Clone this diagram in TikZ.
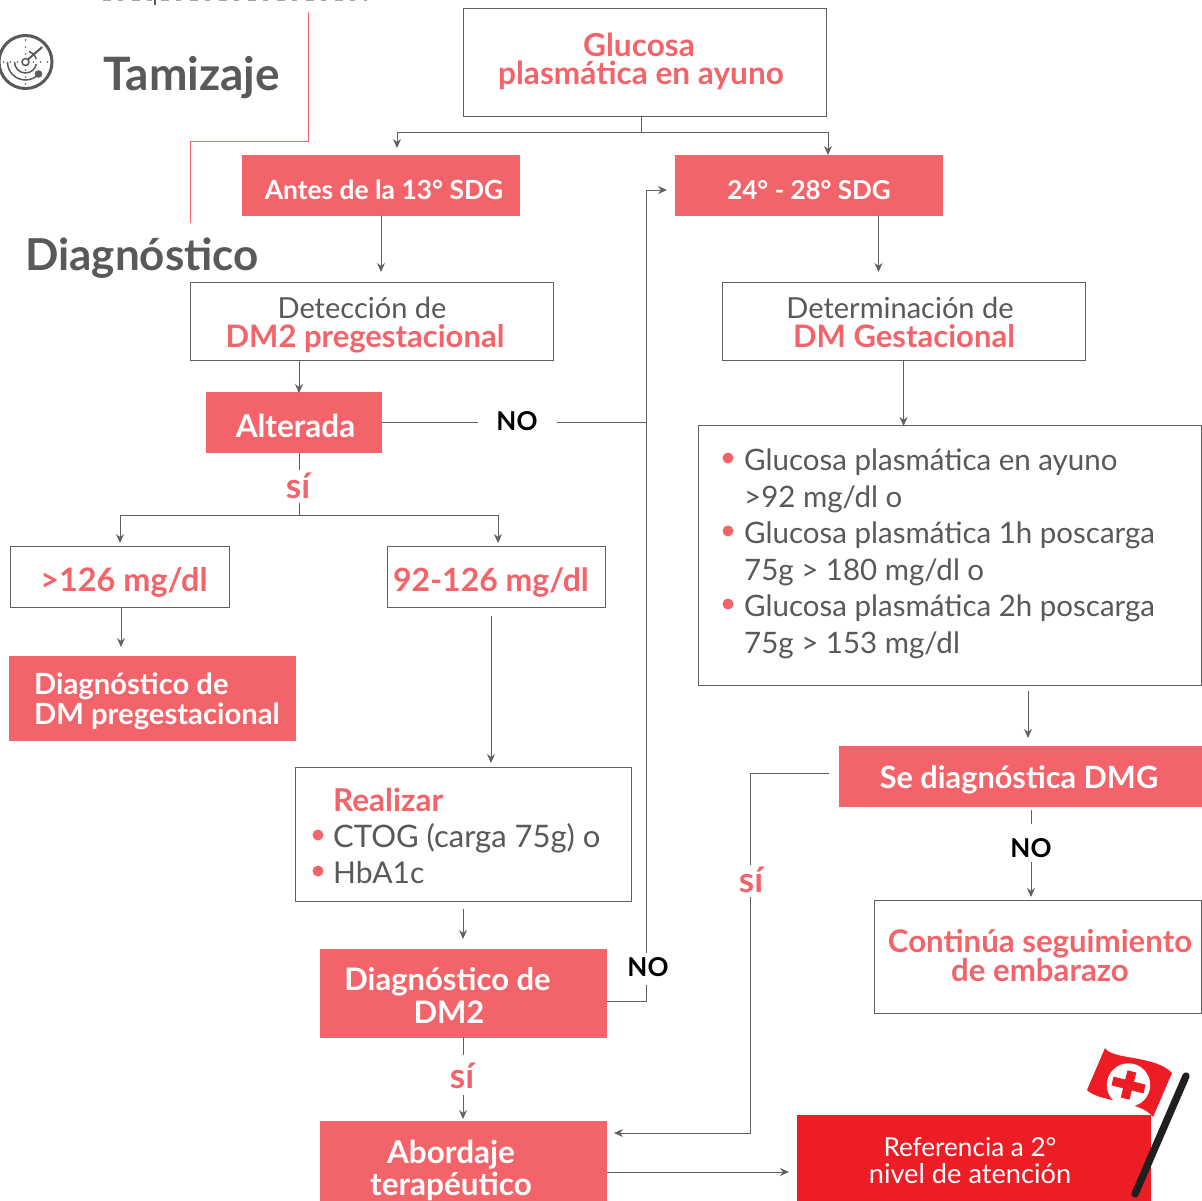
\documentclass[tikz,border=0pt]{standalone}
\usepackage{fontspec}
\setmainfont{Lato}
\usetikzlibrary{arrows.meta,calc}
\definecolor{coral}{HTML}{F3646A}
\definecolor{redd}{HTML}{EE1C25}
\definecolor{gris}{HTML}{58595B}
\definecolor{linea}{HTML}{5F6062}
\newcommand{\fs}[2]{\fontsize{#1}{#2}\selectfont}
\tikzset{
 x=1pt,y=-1pt,
 pbox/.style={draw=linea,line width=0.9pt,fill=white},
 fbox/.style={fill=coral},
 conn/.style={draw=linea,line width=0.9pt},
 arr/.style={conn,-{Stealth[length=9pt,width=8pt]}},
 tw/.style={text=white,align=center,inner sep=0pt},
 tc/.style={text=coral,align=center,inner sep=0pt},
 tg/.style={text=gris,align=left,inner sep=0pt},
 lab/.style={inner sep=0pt,text=black,font=\bfseries\fs{26}{26}},
 silab/.style={inner sep=0pt,text=coral,font=\bfseries\fs{35}{35}},
 dot/.style={circle,fill=coral,inner sep=0pt,minimum size=11pt},
}
\newcommand{\boxn}[6]{\path[#2] (#3,#4) rectangle (#5,#6); \coordinate (#1) at ({(#3+#5)/2},{(#4+#6)/2});
 \coordinate (#1-n) at ({(#3+#5)/2},#4); \coordinate (#1-s) at ({(#3+#5)/2},#6);
 \coordinate (#1-w) at (#3,{(#4+#6)/2}); \coordinate (#1-e) at (#5,{(#4+#6)/2});}
\begin{document}
\begin{tikzpicture}
\useasboundingbox (0,0) rectangle (1202,1201);
\begin{scope}
\clip (0,0) rectangle (1202,1201);
% boxes
\boxn{gluc}{pbox}{463.5}{8.5}{826}{116}
\boxn{antes}{fbox}{242}{155}{520}{216}
\boxn{sdg}{fbox}{675}{155}{943}{216}
\boxn{det}{pbox}{190.5}{282.5}{553}{360.5}
\boxn{dmg}{pbox}{722.5}{282.5}{1085}{360.5}
\boxn{alt}{fbox}{206}{392}{382}{453}
\boxn{mayor}{pbox}{10.5}{546}{229.5}{607}
\boxn{rango}{pbox}{387}{546}{605.5}{607}
\boxn{dxp}{fbox}{9}{656}{296}{741}
\boxn{real}{pbox}{295.5}{767.5}{631}{901.5}
\boxn{dx}{fbox}{320}{949}{607}{1037.5}
\boxn{abor}{fbox}{320}{1121}{607}{1201}
\boxn{lista}{pbox}{698.5}{425.5}{1201.5}{685}
\boxn{sedx}{fbox}{839}{746}{1202}{807}
\boxn{cont}{pbox}{874.5}{900.5}{1201.5}{1013.5}
\boxn{refe}{fill=redd}{797}{1115}{1151}{1201}
% guide lines
\draw[coral,line width=1pt] (308,12) -- (308,142) -- (190,142) -- (190,223);
% remnants of the line of text cut off by the top edge
\draw[gris!55,line width=1.6pt,dash pattern=on 8pt off 7pt on 5pt off 9pt] (103,0.6) -- (367,0.6);
\draw[gris,line width=1.3pt] (155,0) -- (155,5);
% connectors
\draw[conn] (641,116) -- (641,132);
\draw[arr] (641,132) -- (397,132) -- (397,148);
\draw[arr] (641,132) -- (828,132) -- (828,155);
\draw[arr] (antes-s) -- (antes-s |- 0,272);
\draw[arr] (878.5,216) -- (878.5,272);
\draw[arr] (299,361) -- (299,393);
\draw[arr] (903.5,361) -- (903.5,426);
\draw[conn] (alt-e) -- (alt-e -| 478,0);
\draw[conn] (alt-e -| 557,0) -- (alt-e -| 646,0);
\draw[arr] (646,953) -- (646,190) -- (667,190);
\draw[conn] (dx-e |- 0,1001) -- (646,1001) -- (646,985);
\draw[conn] (299,453) -- (299,470);
\draw[conn] (299,503) -- (299,515);
\draw[arr] (299,515) -- (120,515) -- (120,543);
\draw[arr] (299,515) -- (498,515) -- (498,543);
\draw[arr] (121,607) -- (121,647);
\draw[arr] (491,616) -- (491,763);
\draw[arr] (463,909) -- (463,939);
\draw[conn] (463,1037) -- (463,1055);
\draw[arr] (463,1095) -- (463,1119);
\draw[conn] (829,773) -- (750.5,773) -- (750.5,865);
\draw[arr] (750.5,897) -- (750.5,1133) -- (614,1133);
\draw[arr] (1028,691) -- (1028,738);
\draw[conn] (1031,810) -- (1031,824);
\draw[arr] (1031,862) -- (1031,897);
\draw[arr] (607,1172) -- (789,1172);
% titles
\node[text=gris,anchor=base west,inner sep=0pt,font=\bfseries\fs{46}{46}] (tam) at (103,91) {Tamizaje};
\node[text=gris,anchor=base west,inner sep=0pt,font=\bfseries\fs{44}{44}] (diag) at (25,270) {Diagnóstico};
% texts
\node[tc,font=\bfseries\fs{31.6}{28}] (t1) at (641,61) {\hspace*{-4pt}Glucosa\\plasmática en ayuno};
\node[tw,font=\bfseries\fs{26.4}{26}] (t2) at (384,190) {Antes de la 13° SDG};
\node[tw,font=\bfseries\fs{26}{26}] (t3) at (809,190) {24° - 28° SDG};
\node[text=gris,align=center,inner sep=0pt,font=\fs{29}{28}] (t4a) at (362,308) {Detección de};
\node[tc,anchor=base,font=\bfseries\fs{31}{28}] (t4b) at (365,347) {DM2 pregestacional};
\node[text=gris,align=center,inner sep=0pt,font=\fs{29}{28}] (t5a) at (900,308) {Determinación de};
\node[tc,anchor=base,font=\bfseries\fs{31}{28}] (t5b) at (904,347) {DM Gestacional};
\node[tw,font=\bfseries\fs{31.5}{30}] (t6) at (295.5,425.5) {Alterada};
\node[lab] (no1) at (517,421) {NO};
\node[silab] (si1) at (298,486) {sí};
\node[tc,font=\bfseries\fs{32.4}{30}] (t7) at (124,582) {>126 mg/dl};
\node[tc,font=\bfseries\fs{32}{30}] (t8) at (491,582) {92-126 mg/dl};
\node[tw,anchor=west,align=left,font=\bfseries\fs{29.2}{30}] (t9) at (34,701) {Diagnóstico de\\DM pregestacional};
\node[tc,anchor=base west,font=\bfseries\fs{31.5}{30}] (t10) at (333,811) {Realizar};
\node[dot] (d1) at (318,835) {};
\node[dot] (d2) at (318,871) {};
\node[tg,anchor=base west,font=\fs{31}{30}] (t11) at (333,847) {CTOG (carga 75g) o};
\node[tg,anchor=base west,font=\fs{30}{30}] (t12) at (333,883) {HbA1c};
\node[tw,font=\bfseries\fs{31}{33}] (t13) at (449,995) {Diagnóstico de\hspace*{3pt}\\DM2};
\node[lab] (no2) at (648,967) {NO};
\node[silab] (si2) at (462,1076) {sí};
\node[tw,font=\bfseries\fs{31.5}{32}] (t14) at (451,1170) {Abordaje\\terapéutico};
\node[dot] (d3) at (728,458) {};
\node[dot] (d4) at (728,531) {};
\node[dot] (d5) at (728,604) {};
\node[tg,anchor=north west,font=\fs{29.5}{36.5}] (t15) at (744,449) {Glucosa plasmática en ayuno\\>92 mg/dl o\\Glucosa plasmática 1h poscarga\\75g > 180 mg/dl o\\Glucosa plasmática 2h poscarga\\75g > 153 mg/dl};
\node[tw,font=\bfseries\fs{30.7}{30}] (t16) at (1019,780) {Se diagnóstica DMG};
\node[lab] (no3) at (1031,848) {NO};
\node[silab] (si3) at (751,880) {sí};
\node[tc,font=\bfseries\fs{31.2}{29}] (t17) at (1040,956) {Continúa seguimiento\\de embarazo};
\node[tw,font=\fs{26.1}{27}] (t18) at (970,1161) {Referencia a 2°\\{\fs{27.2}{27}\selectfont nivel de atención}};
% radar icon
\begin{scope}[shift={(25.5,62)}]
\draw[gris,line width=3pt] (0,0) circle (26.5);
\draw[gris,line width=1.5pt] (0,0) circle (3.5);
\draw[gris,line width=1.5pt] (-11,0) arc (180:10:11);
\draw[gris,line width=1.5pt] (-18,0) arc (180:40:18);
\draw[gris,line width=1.5pt] (3.5,-10.5) arc (-72:-15:11);
\draw[gris,line width=2pt] (2.5,-2.5) -- (16.7,-15);
\fill[gris] (13,12) circle (3.8);
\foreach \a in {0,90,180,270}{\foreach \r in {8,15,22}{\fill[gris] (\a:\r) circle (0.9);}}
\end{scope}
% flag
\draw[line width=7.3pt,line cap=round,color={black!88}] (1186,1076) -- (1135,1194);
\fill[redd] (1105,1048) .. controls (1112,1060) and (1155,1055) .. (1172,1073)
 -- (1153,1117) .. controls (1140,1100) and (1098,1102) .. (1087,1090) -- cycle;
\fill[white] (1128.5,1085) circle (21.7);
\begin{scope}[shift={(1128.5,1085)},rotate=-14]
\fill[redd] (-16.5,-4.5) rectangle (16.5,4.5);
\fill[redd] (-4.5,-14) rectangle (4.5,14);
\end{scope}
\end{scope}
\end{tikzpicture}
\end{document}
